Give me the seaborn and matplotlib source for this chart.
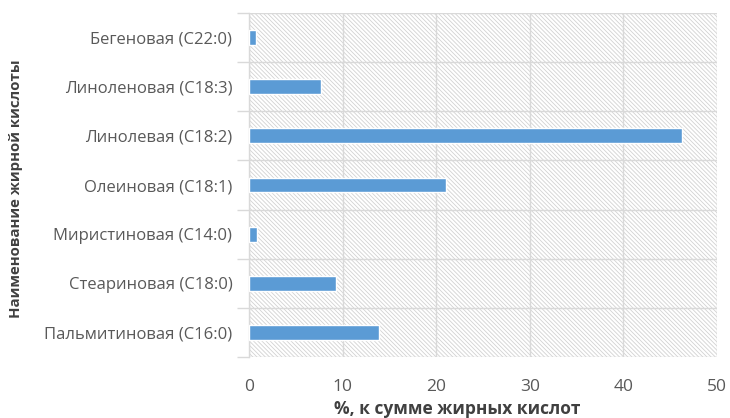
import matplotlib
matplotlib.use("Agg")
import matplotlib.pyplot as plt
import seaborn as sns
import pandas as pd
from matplotlib.patches import Rectangle
from matplotlib.ticker import FixedLocator

categories = ["Бегеновая (C22:0)", "Линоленовая (C18:3)", "Линолевая (C18:2)",
              "Олеиновая (C18:1)", "Миристиновая (C14:0)", "Стеариновая (C18:0)",
              "Пальмитиновая (C16:0)"]
values = [0.7, 7.7, 46.3, 21.1, 0.85, 9.3, 13.9]
xticks = [0, 10, 20, 30, 40, 50]

df = pd.DataFrame({"cat": categories, "val": values})

sns.set_theme(style="white")
plt.rcParams['font.family'] = ['Open Sans', 'DejaVu Sans']
plt.rcParams['hatch.linewidth'] = 0.6

fig = plt.figure(figsize=(7.3, 4.18), dpi=100)
ax = fig.add_axes([249/730, 1-357/418, (717-249)/730, (357-13)/418])

sns.barplot(data=df, x="val", y="cat", orient="h", color="#5B9BD5",
            saturation=1, width=0.3, ax=ax, zorder=3)

bg = Rectangle((0, 0), 1, 1, transform=ax.transAxes, facecolor="white",
               edgecolor="#d2d2d2", hatch="\\" * 8, linewidth=0, zorder=0)
ax.add_patch(bg)

ax.set_xlim(0, 50)
ax.set_ylim(6.5, -0.5)
ax.set_xticks(xticks)
ax.yaxis.set_minor_locator(FixedLocator([i - 0.5 for i in range(len(categories) + 1)]))
ax.grid(axis="x", which="major", color="#d9d9d9", linewidth=1, zorder=1)
ax.grid(axis="y", which="minor", color="#d9d9d9", linewidth=1, zorder=1)
ax.set_axisbelow(True)

for s in ["top", "right", "bottom"]:
    ax.spines[s].set_visible(False)
ax.spines["left"].set_color("#d9d9d9")
ax.spines["left"].set_linewidth(1)

ax.tick_params(axis="y", which="major", length=0, pad=12, labelsize=12, labelcolor="#595959")
ax.tick_params(axis="y", which="minor", length=9, color="#d9d9d9", width=1, left=True)
ax.tick_params(axis="x", which="major", length=0, pad=16, labelsize=12.5, labelcolor="#595959")

ax.set_xlabel("%, к сумме жирных кислот", fontsize=12.5, fontweight="bold",
              color="#404040")
ax.set_ylabel("Наименование жирной кислоты", fontsize=10.8, fontweight="bold",
              color="#404040")
ax.xaxis.set_label_coords((457 - 249) / 468, (357 - 400) / 344)
ax.yaxis.set_label_coords((23 - 249) / 468, 0.49)

fig.savefig("out.png", dpi=100)
